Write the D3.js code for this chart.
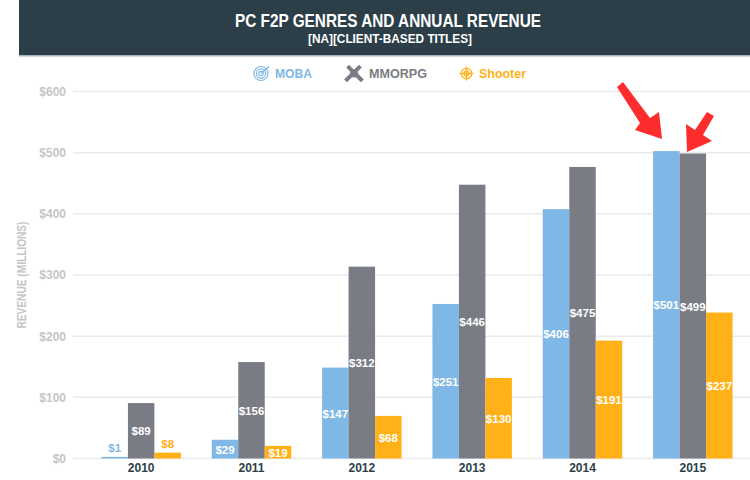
<!DOCTYPE html>
<html>
<head>
<meta charset="utf-8">
<script src="https://cdnjs.cloudflare.com/ajax/libs/d3/7.8.5/d3.min.js"></script>
<style>
  html, body { margin: 0; padding: 0; background: #fff; }
  svg { display: block; }
  text { font-family: "Liberation Sans", Arial, sans-serif; }
</style>
</head>
<body>
<div id="chart"></div>
<script>
const years = ["2010", "2011", "2012", "2013", "2014", "2015"];
const seriesNames = ["MOBA", "MMORPG", "Shooter"];
const moba = [1, 29, 147, 251, 406, 501];
const mmorpg = [89, 156, 312, 446, 475, 497];
const shooter = [8, 19, 68, 130, 191, 237];
// the printed label for the 2015 MMORPG bar is a little above its drawn height
const mobaLabels = moba;
const mmorpgLabels = [89, 156, 312, 446, 475, 499];
const shooterLabels = shooter;
const yTicks = [0, 100, 200, 300, 400, 500, 600];
const seriesColors = ["#7fb8e6", "#797c84", "#ffb117"];

const width = 750, height = 480;
const narrow = "'Liberation Sans Narrow', 'Liberation Sans', sans-serif";

const svg = d3.select("#chart").append("svg")
    .attr("width", width)
    .attr("height", height);

// header band
svg.append("rect").attr("x", 19).attr("y", 0).attr("width", width - 19).attr("height", 55).attr("fill", "#2c3f49");
svg.append("rect").attr("x", 19).attr("y", 55).attr("width", width - 19).attr("height", 1.5).attr("fill", "#a9b4b9");

svg.append("text")
    .attr("x", 388).attr("y", 27)
    .attr("text-anchor", "middle")
    .attr("textLength", 306).attr("lengthAdjust", "spacingAndGlyphs")
    .style("font-family", narrow)
    .style("font-size", "19px").style("font-weight", "bold").style("fill", "#fff")
    .text("PC F2P GENRES AND ANNUAL REVENUE");
svg.append("text")
    .attr("x", 390).attr("y", 43)
    .attr("text-anchor", "middle")
    .attr("textLength", 164).attr("lengthAdjust", "spacingAndGlyphs")
    .style("font-family", narrow)
    .style("font-size", "13px").style("font-weight", "bold").style("fill", "#fff")
    .text("[NA][CLIENT-BASED TITLES]");

const x = d3.scaleBand().domain(years).range([86, 748]).paddingInner(0.28).paddingOuter(0.14);
const xInner = d3.scaleBand().domain(seriesNames).range([0, x.bandwidth()]);
const y = d3.scaleLinear().domain([0, 600]).range([458.5, 91.5]);

// gridlines
svg.append("g").selectAll("line")
    .data(yTicks)
    .enter()
    .append("line")
    .attr("x1", 73).attr("x2", width)
    .attr("y1", d => y(d)).attr("y2", d => y(d))
    .attr("stroke", "#e9eaeb")
    .attr("stroke-width", 1.5);

// y axis labels
const yAxis = svg.append("g")
    .attr("transform", "translate(66,0)")
    .call(d3.axisLeft(y).tickValues(yTicks).tickSize(0).tickPadding(0).tickFormat(d => "$" + d));
yAxis.select(".domain").remove();
yAxis.selectAll("text")
    .style("font-family", "'Liberation Sans', sans-serif")
    .style("font-size", "12px").style("font-weight", "bold").style("fill", "#c3c5c8");

svg.append("text")
    .attr("transform", "translate(26,275) rotate(-90)")
    .attr("text-anchor", "middle")
    .attr("textLength", 107).attr("lengthAdjust", "spacingAndGlyphs")
    .style("font-family", narrow)
    .style("font-size", "13px").style("font-weight", "bold").style("fill", "#c3c5c8")
    .text("REVENUE (MILLIONS)");

// bars
const seriesValues = [moba, mmorpg, shooter];
const seriesLabels = [mobaLabels, mmorpgLabels, shooterLabels];
seriesNames.forEach((name, s) => {
    const rows = years.map((year, i) => ({ year, value: seriesValues[s][i], label: seriesLabels[s][i] }));
    const g = svg.append("g");

    g.selectAll("rect")
        .data(rows)
        .enter()
        .append("rect")
        .attr("x", d => x(d.year) + xInner(name))
        .attr("y", d => y(d.value) - 1)
        .attr("width", xInner.bandwidth())
        .attr("height", d => y(0) - y(d.value) + 1)
        .attr("fill", seriesColors[s]);

    // small bars get their label above, in the series colour
    g.selectAll("text")
        .data(rows)
        .enter()
        .append("text")
        .attr("x", d => x(d.year) + xInner(name) + xInner.bandwidth() / 2)
        .attr("y", d => d.value < 10 ? y(d.value) - 6 : (y(d.value) + y(0)) / 2 + 4)
        .attr("text-anchor", "middle")
        .style("font-size", "11.5px").style("font-weight", "bold")
        .style("fill", d => d.value < 10 ? seriesColors[s] : "#fff")
        .text(d => "$" + d.label);
});

// x axis labels
svg.append("g").selectAll("text")
    .data(years)
    .enter()
    .append("text")
    .attr("x", d => x(d) + x.bandwidth() / 2)
    .attr("y", 471.5)
    .attr("text-anchor", "middle")
    .style("font-size", "12px").style("font-weight", "bold").style("fill", "#2c3f49")
    .text(d => d);

// legend
const legendX = [275, 369, 479];
const legendLen = [37, 58, 47];
seriesNames.forEach((name, s) => {
    svg.append("text")
        .attr("x", legendX[s]).attr("y", 78)
        .attr("textLength", legendLen[s]).attr("lengthAdjust", "spacingAndGlyphs")
        .style("font-size", "12.5px").style("font-weight", "bold")
        .style("fill", seriesColors[s])
        .text(name);
});

// target icon
const mobaIcon = svg.append("g").attr("transform", "translate(261,73.5)")
    .attr("fill", "none").attr("stroke", seriesColors[0]);
[7, 4.6, 2.2].forEach(r => mobaIcon.append("circle").attr("r", r).attr("stroke-width", 1.2));
mobaIcon.append("line").attr("x1", 0).attr("y1", 0).attr("x2", 8).attr("y2", -7).attr("stroke-width", 1.5);

// crossed swords icon
const swords = svg.append("g").attr("transform", "translate(354,73.5)")
    .attr("stroke", seriesColors[1]).attr("stroke-linecap", "square");
swords.append("line").attr("x1", -7).attr("y1", 6).attr("x2", 5).attr("y2", -6).attr("stroke-width", 4);
swords.append("line").attr("x1", 7).attr("y1", 6).attr("x2", -5).attr("y2", -6).attr("stroke-width", 4);
swords.append("circle").attr("r", 4).attr("fill", seriesColors[1]).attr("stroke", "none");

// crosshair icon
const crosshair = svg.append("g").attr("transform", "translate(466.5,73.5)")
    .attr("fill", "none").attr("stroke", seriesColors[2]).attr("stroke-width", 1.3);
crosshair.append("circle").attr("r", 5.2);
crosshair.append("circle").attr("r", 2.4);
crosshair.append("line").attr("x1", -7).attr("x2", 7);
crosshair.append("line").attr("y1", -7).attr("y2", 7);

// red arrows pointing at the 2015 bars
const arrows = [
    "M617,87 L623,82 L650,118 L659,112 L662,139 L635,130 L640,123 Z",
    "M707,112 L714,116 L703,135 L712,141 L687,152 L686,124 L695,130 Z"
];
svg.append("g").selectAll("path")
    .data(arrows)
    .enter()
    .append("path")
    .attr("d", d => d)
    .attr("fill", "#fd2d2d");
</script>
</body>
</html>
